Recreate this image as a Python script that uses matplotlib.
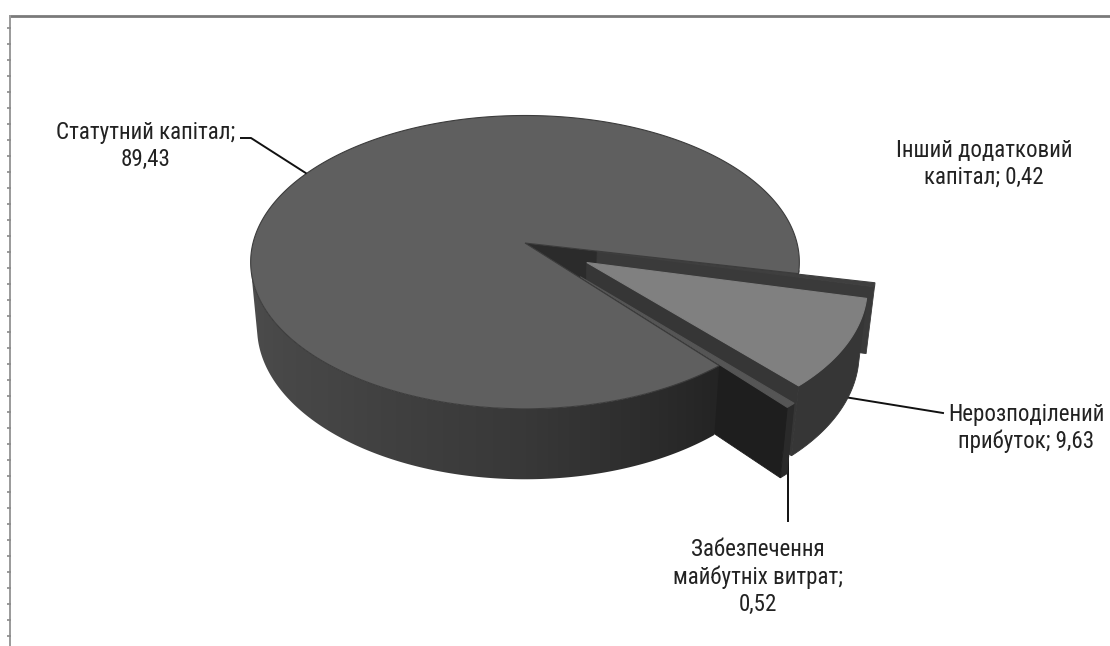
import numpy as np
import matplotlib
matplotlib.use("Agg")
import matplotlib.pyplot as plt
from matplotlib.patches import Polygon
from matplotlib import font_manager

# ---- data ----
categories = ["Статутний капітал", "Інший додатковий капітал",
              "Нерозподілений прибуток", "Забезпечення майбутніх витрат"]
values = [89.43, 0.42, 9.63, 0.52]
value_labels = ["89,43", "0,42", "9,63", "0,52"]
label_texts = ["Статутний капітал;\n89,43",
               "Інший додатковий\nкапітал; 0,42",
               "Нерозподілений\nприбуток; 9,63",
               "Забезпечення\nмайбутніх витрат;\n0,52"]
explode = [0.0, 0.27, 0.26, 0.30]
top_colors = ["#5f5f5f", "#3f3f3f", "#808080", "#555555"]
wall_colors = ["#333333", "#333333", "#363636", "#2a2a2a"]
face_colors = ["#2b2b2b", "#3a3a3a", "#363636", "#1e1e1e"]

# ---- font choice (condensed if available) ----
ttf = font_manager.fontManager.ttflist
names = {e.name for e in ttf}
font_family = ["DejaVu Sans"]
font_stretch = "normal"
font_size = 14.5
for cand in ["Liberation Sans Narrow", "Roboto Condensed", "Open Sans Condensed",
             "Noto Sans Condensed", "Carlito"]:
    if cand in names:
        font_family = [cand, "DejaVu Sans"]
        font_size = 16.6
        break
else:
    if any(e.name == "DejaVu Sans" and str(e.stretch) in ("condensed", "semi-condensed")
           for e in ttf):
        font_stretch = "condensed"
        font_size = 16

# ---- projection (pseudo-3D) ----
W, H = 1110, 646
cx, cy = 525, 243
alpha = np.radians(32)
ca, sa = np.cos(alpha), np.sin(alpha)
D = 6.5
f = 1768
h = 0.29
start = -50.0  # math degrees, slices run clockwise


def proj(x, y, z):
    x = np.asarray(x, float); y = np.asarray(y, float); z = np.asarray(z, float)
    d = D + y * ca - z * sa
    return cx + f * x / d, cy - f * (y * sa + z * ca) / d


cam = np.array([0.0, -D * ca, D * sa])

fig = plt.figure(figsize=(W / 100, H / 100), dpi=100)
ax = fig.add_axes([0, 0, 1, 1])
ax.set_xlim(0, W)
ax.set_ylim(H, 0)
ax.axis("off")

ZO = [2]


def poly(xs, ys, color, lw=0.6, ec=None):
    p = Polygon(np.column_stack([xs, ys]), closed=True, facecolor=color,
                edgecolor=ec if ec else color, lw=lw, zorder=ZO[0])
    ax.add_patch(p)
    ZO[0] += 0.01
    return p


def main_wall_lum(t):
    tm = np.mod(t, 360)
    return np.interp(tm, [0, 14, 180, 230, 270, 310, 346, 360],
                     [0.20, 0.20, 0.31, 0.27, 0.22, 0.14, 0.20, 0.20])


cum = np.concatenate([[0], np.cumsum(values)]) / np.sum(values) * 360.0
geo = []
for i, v in enumerate(values):
    t1 = start - cum[i]
    t0 = start - cum[i + 1]
    mid = np.radians((t0 + t1) / 2)
    ox, oy = explode[i] * np.cos(mid), explode[i] * np.sin(mid)
    geo.append((t0, t1, ox, oy, mid))


def visible_angles(i, ta, tb):
    t0, t1, ox, oy, mid = geo[i]
    ts = np.linspace(ta, tb, max(int(abs(tb - ta) * 4), 8))
    tr = np.radians(ts)
    px, py = ox + np.cos(tr), oy + np.sin(tr)
    vis = (cam[0] - px) * np.cos(tr) + (cam[1] - py) * np.sin(tr)
    return tr[vis > 0]


def draw_wall(i, ta, tb, gradient=False):
    t0, t1, ox, oy, mid = geo[i]
    tr = visible_angles(i, ta, tb)
    if len(tr) < 2:
        return
    xs = np.concatenate([ox + np.cos(tr), ox + np.cos(tr[::-1])])
    ys = np.concatenate([oy + np.sin(tr), oy + np.sin(tr[::-1])])
    zs = np.concatenate([np.zeros(len(tr)), np.full(len(tr), -h)])
    X, Y = proj(xs, ys, zs)
    if not gradient:
        poly(X, Y, wall_colors[i])
        return
    p = poly(X, Y, "none", lw=0)
    # horizontal gradient following the rim angle
    RX, _ = proj(ox + np.cos(tr), oy + np.sin(tr), np.zeros(len(tr)))
    order = np.argsort(RX)
    cols = np.linspace(RX.min() - 2, RX.max() + 2, 600)
    lum = np.interp(cols, RX[order], main_wall_lum(np.degrees(tr[order])))
    img = np.repeat(np.repeat(lum[None, :, None], 3, axis=2), 2, axis=0)
    im = ax.imshow(img, aspect="auto",
                   extent=[cols[0], cols[-1], Y.max() + 2, Y.min() - 2],
                   interpolation="bilinear", zorder=ZO[0])
    im.set_clip_path(p)
    ZO[0] += 0.01


def draw_faces(i):
    t0, t1, ox, oy, mid = geo[i]
    for t, nsign in ((t0, -1), (t1, 1)):
        tt = np.radians(t)
        if nsign < 0:
            n = np.array([np.sin(tt), -np.cos(tt)])
        else:
            n = np.array([-np.sin(tt), np.cos(tt)])
        pc = np.array([ox + 0.5 * np.cos(tt), oy + 0.5 * np.sin(tt)])
        vis = n[0] * (cam[0] - pc[0]) + n[1] * (cam[1] - pc[1])
        if vis <= 0:
            continue
        xs = [ox, ox + np.cos(tt), ox + np.cos(tt), ox]
        ys = [oy, oy + np.sin(tt), oy + np.sin(tt), oy]
        X, Y = proj(xs, ys, [0, 0, -h, -h])
        poly(X, Y, face_colors[i])


def draw_top(i):
    t0, t1, ox, oy, mid = geo[i]
    tr = np.radians(np.linspace(t0, t1, max(int(abs(t1 - t0) * 2), 4)))
    xs = np.concatenate([[ox], ox + np.cos(tr)])
    ys = np.concatenate([[oy], oy + np.sin(tr)])
    X, Y = proj(xs, ys, np.zeros_like(xs))
    poly(X, Y, top_colors[i], lw=0.8, ec="#3c3c3c" if i == 0 else None)


# painter's order
m0, m1 = geo[0][0], geo[0][1]
split = m0 + 60.0
draw_wall(0, m0, split)              # back-right part of main wall
draw_faces(0)                        # main cut face (facing the gap)
for i in (1, 2, 3):                  # exploded slices
    draw_wall(i, geo[i][0], geo[i][1])
    draw_faces(i)
    draw_top(i)
draw_wall(0, split, m1, gradient=True)  # front part of main wall
draw_top(0)                          # main top

# ---- labels & leader lines ----
label_pos = [(146, 146), (984, 164), (1026, 428), (758, 577)]
for i, txt in enumerate(label_texts):
    ax.text(label_pos[i][0], label_pos[i][1], txt, ha="center", va="center",
            fontsize=font_size, family=font_family, fontstretch=font_stretch,
            color="#222222", zorder=50, linespacing=1.22, clip_on=False)

t0, t1, ox, oy, mid = geo[0]
rx, ry = proj(ox + np.cos(mid), oy + np.sin(mid), 0)
ax.plot([240, 251, rx], [138, 138, ry], color="#111111", lw=1.4, zorder=40,
        solid_capstyle="butt")
t0, t1, ox, oy, mid = geo[2]
rx, ry = proj(ox + np.cos(mid), oy + np.sin(mid), -0.75 * h)
ax.plot([rx, 943], [ry, 413], color="#111111", lw=1.4, zorder=1)
t0, t1, ox, oy, mid = geo[3]
rx, ry = proj(ox + np.cos(mid), oy + np.sin(mid), -h)
ax.plot([rx + 4, rx + 4], [ry - 20, 521], color="#111111", lw=1.4, zorder=1)

# ---- frame ----
ax.plot([10, W], [16, 16], color="#7a7a7a", lw=2.0, zorder=60, clip_on=False)
ax.plot([10, 10], [16, H], color="#9a9a9a", lw=1.4, zorder=60, clip_on=False)
ty = np.arange(28, H, 16)
ax.scatter(np.full_like(ty, 8.5, dtype=float), ty, marker="_", s=6,
           color="#8a8a8a", zorder=60, linewidths=1.2)

fig.savefig("out.png", dpi=100, facecolor="white")
